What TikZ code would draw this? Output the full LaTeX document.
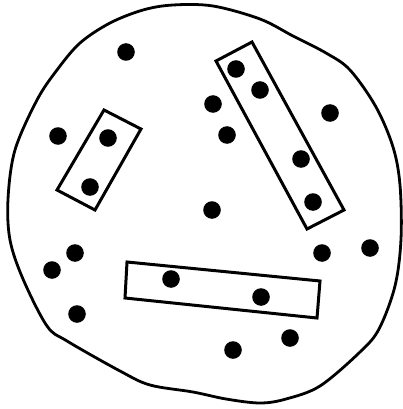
\documentclass[tikz,border=0pt]{standalone}
\usepackage{xcolor}
\usepackage{tikz}
\usetikzlibrary{arrows.meta}
\tikzset{
  set outline/.style={draw=black, line width=2.8pt, line join=round},
  group box/.style={draw=black, line width=3pt, line join=miter},
  element dot/.style={fill=black}
}
\begin{document}
\begin{tikzpicture}[x=1pt, y=-1pt]
\useasboundingbox (0,0) rectangle (403,409);
% the whole set
\draw[set outline] plot[smooth cycle, tension=0.55] coordinates {
  (173,5) (213,6) (260,19) (293,36) (326,53) (350,70) (376,107)
  (393,147) (400,185) (401,239) (395,286) (379,329) (360,352)
  (320,386) (286,399) (260,403) (226,399) (193,392) (150,385)
  (120,371) (67,341) (47,326) (23,279) (10,240) (8,199) (15,150)
  (37,100) (57,70) (80,43) (110,23) (143,10)};
% the boxed groups
\draw[group box] (104,110) -- (141,129) -- (95,210) -- (57,190) -- cycle;
\draw[group box] (216,61) -- (252,42) -- (344,210) -- (307,229) -- cycle;
\draw[group box] (127,262) -- (320,281) -- (317,318) -- (125,298) -- cycle;
% elements
\foreach \p in {(126,52),(236,69),(260,90),(213,104),(330,113),(58,136),
  (108,138),(227,135),(301,159),(90,187),(313,202),(212,210),(75,253),
  (322,253),(370,248),(52,270),(171,279),(261,297),(77,314),(290,338),
  (233,350)}
  \fill[element dot] \p circle (8.8pt);
\end{tikzpicture}
\end{document}
